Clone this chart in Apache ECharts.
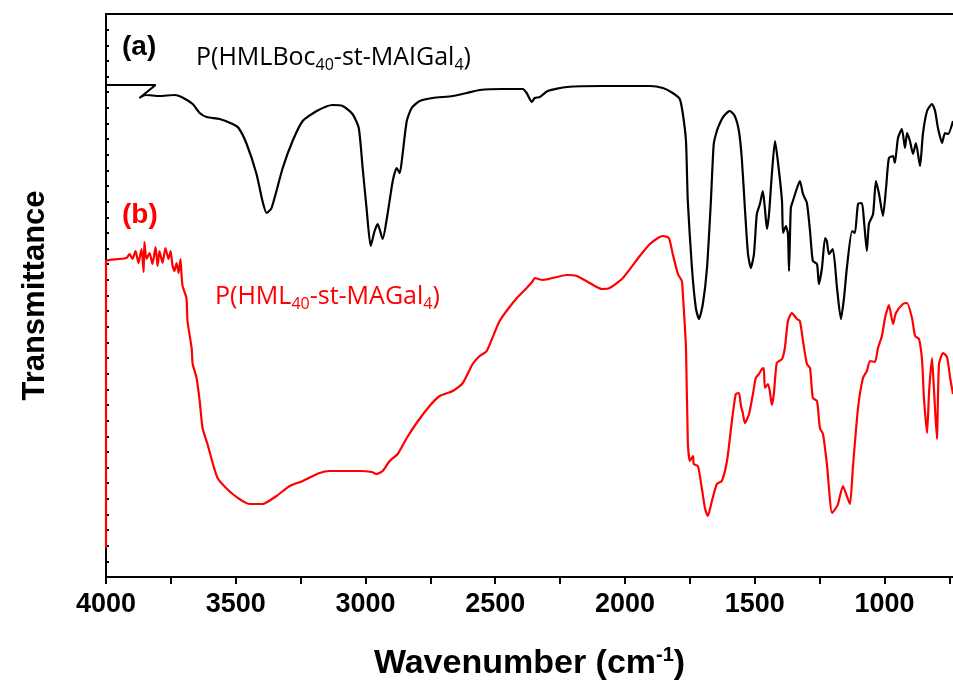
<!DOCTYPE html>
<html>
<head>
<meta charset="utf-8">
<script src="https://cdn.jsdelivr.net/npm/echarts@6/dist/echarts.min.js"></script>
<style>
  html, body { margin: 0; padding: 0; background: #fff; }
  #ftir { width: 953px; height: 693px; }
</style>
</head>
<body>
<div id="ftir"></div>
<script>
// 轴刻度
const majorTicks = [4000, 3500, 3000, 2500, 2000, 1500, 1000]
const minorTicks = [4000, 3750, 3500, 3250, 3000, 2750, 2500, 2250, 2000, 1750, 1500, 1250, 1000, 750]

// (a) P(HMLBoc40-st-MAIGal4) 波数 / 透过率 (任意单位)
const waveA = [4000, 3809, 3871, 3848, 3794, 3736, 3709, 3666, 3639, 3612, 3562, 3512, 3489, 3458, 3420, 3397, 3381, 3362, 3319, 3281,
  3242, 3188, 3127, 3088, 3050, 3026, 3011, 2996, 2980, 2965, 2953, 2934, 2915, 2895, 2880, 2868, 2857, 2841, 2822, 2791,
  2741, 2664, 2610, 2560, 2471, 2394, 2379, 2359, 2348, 2328, 2298, 2224, 2086, 1904, 1854, 1816, 1789, 1777, 1765, 1758,
  1742, 1727, 1715, 1700, 1684, 1669, 1658, 1646, 1634, 1619, 1596, 1577, 1561, 1550, 1538, 1526, 1515, 1503, 1492, 1480,
  1469, 1461, 1453, 1445, 1434, 1422, 1411, 1395, 1391, 1380, 1372, 1368, 1361, 1353, 1337, 1326, 1314, 1299, 1287, 1276,
  1260, 1253, 1241, 1229, 1222, 1214, 1199, 1183, 1168, 1156, 1145, 1125, 1114, 1102, 1087, 1079, 1068, 1060, 1044, 1033,
  1021, 1006, 994, 983, 967, 960, 948, 933, 921, 913, 902, 890, 879, 863, 852, 836, 817, 805, 794, 778, 767, 755, 736]
const transA = [492, 492, 479, 482, 481, 482, 480, 473, 464, 460, 458, 453, 449, 433, 403, 376, 364, 369, 409, 436,
  456, 466, 472, 471, 463, 449, 409, 369, 331, 346, 353, 338, 363, 396, 409, 404, 423, 456, 469, 476,
  479, 481, 484, 487, 488, 488, 484, 475, 479, 480, 486, 490, 491, 491, 489, 484, 478, 463, 436, 376,
  309, 269, 258, 273, 309, 376, 433, 446, 454, 461, 466, 461, 446, 419, 369, 323, 309, 323, 363, 373,
  386, 369, 348, 363, 403, 436, 416, 376, 344, 351, 343, 306, 369, 376, 389, 396, 383, 374, 346, 316,
  313, 293, 309, 339, 336, 323, 328, 289, 258, 279, 309, 346, 344, 373, 374, 356, 326, 353, 363, 396,
  383, 361, 389, 419, 421, 414, 439, 448, 429, 444, 436, 423, 434, 411, 443, 466, 473, 466, 449, 434, 444, 443, 456]

// (b) P(HML40-st-MAGal4)
const waveB = [4000, 4000, 3987, 3921, 3909, 3898, 3886, 3875, 3863, 3855, 3852, 3844, 3832, 3821, 3809, 3801, 3794, 3782, 3771, 3759,
  3751, 3744, 3736, 3728, 3720, 3713, 3709, 3705, 3690, 3686, 3670, 3666, 3651, 3639, 3628, 3609, 3570, 3512, 3447, 3397,
  3343, 3292, 3242, 3177, 3138, 3023, 2976, 2957, 2934, 2907, 2876, 2841, 2803, 2753, 2714, 2664, 2625, 2587, 2560, 2533,
  2483, 2417, 2379, 2355, 2348, 2317, 2224, 2186, 2136, 2089, 2059, 2008, 1943, 1904, 1873, 1854, 1831, 1816, 1796, 1781,
  1777, 1765, 1758, 1750, 1738, 1735, 1719, 1704, 1692, 1681, 1665, 1646, 1627, 1607, 1588, 1573, 1561, 1553, 1546, 1538,
  1522, 1507, 1496, 1484, 1472, 1465, 1461, 1449, 1442, 1434, 1426, 1415, 1395, 1384, 1372, 1357, 1337, 1326, 1314, 1299,
  1287, 1276, 1260, 1249, 1237, 1222, 1202, 1187, 1179, 1160, 1148, 1133, 1122, 1102, 1083, 1068, 1056, 1037, 1025, 1010,
  998, 983, 967, 956, 929, 913, 894, 882, 867, 855, 848, 836, 828, 817, 809, 798, 790, 774, 759, 747, 736]
const transB = [29, 316, 317, 319, 323, 318, 326, 314, 328, 305, 335, 318, 324, 313, 330, 311, 326, 314, 329, 318,
  326, 312, 306, 314, 304, 318, 303, 291, 279, 256, 229, 213, 199, 176, 149, 133, 99, 83, 73, 73,
  81, 91, 96, 104, 106, 106, 105, 103, 106, 116, 123, 139, 154, 171, 181, 186, 194, 213, 221, 226,
  256, 279, 289, 296, 299, 297, 302, 301, 294, 288, 289, 299, 321, 333, 339, 341, 339, 323, 303, 296,
  283, 229, 136, 116, 121, 113, 111, 89, 69, 61, 76, 93, 96, 116, 156, 183, 184, 171, 164, 154,
  163, 183, 199, 203, 208, 209, 189, 193, 186, 172, 184, 214, 218, 229, 256, 264, 258, 256, 236, 213,
  209, 179, 176, 149, 143, 113, 64, 69, 73, 91, 83, 73, 109, 169, 199, 206, 216, 215, 229, 241,
  259, 272, 253, 264, 273, 274, 259, 241, 238, 216, 179, 144, 186, 219, 186, 138, 213, 224, 220, 199, 183]

const pairs = (xs, ys) => xs.map((x, i) => [x, ys[i]])

let myChart = echarts.init(document.getElementById('ftir'))
let labelFont = 'Open Sans'
let option = {
  animation: false,
  grid: { left: 106, right: 0, top: 14, bottom: 116 },
  xAxis: [
    {
      type: 'value',
      inverse: true,
      min: 736,
      max: 4000,
      name: '{t|Wavenumber (cm}{sup|-1}{t|)}',
      nameLocation: 'middle',
      nameGap: 68,
      nameTextStyle: {
        rich: {
          t: { fontSize: 34, fontWeight: 'bold', fontFamily: 'Liberation Sans', color: '#000', lineHeight: 38 },
          sup: { fontSize: 20, fontWeight: 'bold', fontFamily: 'Liberation Sans', color: '#000', verticalAlign: 'top', lineHeight: 20 }
        }
      },
      axisLine: { lineStyle: { color: '#000', width: 2 } },
      axisTick: { customValues: minorTicks, length: 7, lineStyle: { color: '#000', width: 2 } },
      axisLabel: {
        customValues: majorTicks,
        margin: 14,
        color: '#000',
        fontSize: 27,
        fontWeight: 'bold',
        fontFamily: 'Liberation Sans',
        formatter: (v) => String(v)
      },
      splitLine: { show: false }
    },
    {
      type: 'value',
      position: 'top',
      inverse: true,
      min: 736,
      max: 4000,
      axisLine: { show: true, lineStyle: { color: '#000', width: 2 } },
      axisTick: { show: false },
      axisLabel: { show: false },
      splitLine: { show: false }
    }
  ],
  yAxis: {
    type: 'value',
    min: 0,
    max: 563,
    interval: 563 / 36,
    name: 'Transmittance',
    nameLocation: 'middle',
    nameGap: 55,
    nameTextStyle: { fontSize: 31, fontWeight: 'bold', fontFamily: 'Liberation Sans', color: '#000' },
    axisLine: { show: true, lineStyle: { color: '#000', width: 2 } },
    axisTick: { inside: true, length: 3, lineStyle: { color: '#000', width: 2 } },
    axisLabel: { show: false },
    splitLine: { show: false }
  },
  graphic: [
    {
      type: 'text', left: 122, top: 33,
      style: { text: '(a)', fill: '#000', font: 'bold 28px "Liberation Sans"' }
    },
    {
      type: 'text', left: 122, top: 201,
      style: { text: '(b)', fill: '#ff0000', font: 'bold 28px "Liberation Sans"' }
    },
    {
      type: 'text', left: 196, top: 45,
      style: {
        text: '{m|P(HMLBoc}{s|40}{m|-st-MAIGal}{s|4}{m|)}',
        rich: {
          m: { fontSize: 25, fontFamily: labelFont, fill: '#000', lineHeight: 32 },
          s: { fontSize: 16, fontFamily: labelFont, fill: '#000', lineHeight: 16, verticalAlign: 'bottom' }
        }
      }
    },
    {
      type: 'text', left: 215, top: 284,
      style: {
        text: '{m|P(HML}{s|40}{m|-st-MAGal}{s|4}{m|)}',
        rich: {
          m: { fontSize: 25, fontFamily: labelFont, fill: '#ff0000', lineHeight: 32 },
          s: { fontSize: 16, fontFamily: labelFont, fill: '#ff0000', lineHeight: 16, verticalAlign: 'bottom' }
        }
      }
    }
  ],
  series: [
    {
      name: 'a',
      type: 'line',
      showSymbol: false,
      smooth: 0.2,
      data: pairs(waveA, transA),
      lineStyle: { color: '#000', width: 2.2 },
      itemStyle: { color: '#000' }
    },
    {
      name: 'b',
      type: 'line',
      showSymbol: false,
      smooth: 0.2,
      data: pairs(waveB, transB),
      lineStyle: { color: '#ff0000', width: 2.2 },
      itemStyle: { color: '#ff0000' }
    }
  ]
}
myChart.setOption(option, true)
</script>
</body>
</html>
